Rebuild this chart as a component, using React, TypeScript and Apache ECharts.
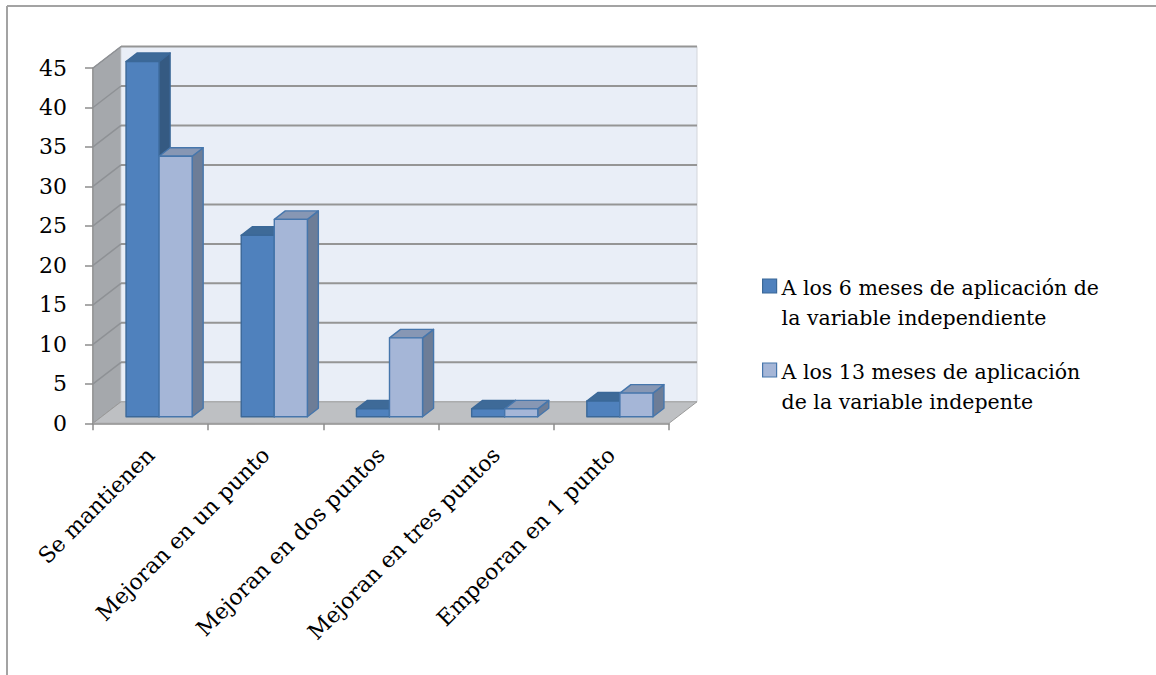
import React, { useEffect, useRef } from "react";
import * as echarts from "echarts";

// Category labels along the floor
const categories = [
  "Se mantienen",
  "Mejoran en un punto",
  "Mejoran en dos puntos",
  "Mejoran en tres puntos",
  "Empeoran en 1 punto",
];

// Series names (legend text, wrapped on two lines)
const seriesNames = [
  "A los 6 meses de aplicación de\nla variable independiente",
  "A los 13 meses de aplicación\nde la variable indepente",
];

// Counts per category
const sixMonths = [45, 23, 1, 1, 2];
const thirteenMonths = [33, 25, 10, 1, 3];

// Value axis
const Y_MIN = 0;
const Y_MAX = 45;
const Y_STEP = 5;

const FONT = "DejaVu Serif";

// Pseudo-3D projection offsets (pixels)
const WALL_DX = 28;
const WALL_DY = -21.5;
const BAR_OX = 8.5;
const BAR_OY = -6.5;
const BAR_DX = 11;
const BAR_DY = -8.5;
const BAR_FRAC = 0.287;

const faces = [
  { front: "#4F81BD", top: "#3E6A98", side: "#355A82", edge: "#3B6898" },
  { front: "#A5B6D7", top: "#8797B4", side: "#6D7D97", edge: "#4676AC" },
];

function wallsRenderer(params: any, api: any) {
  const cs = params.coordSys;
  const l = cs.x;
  const r = cs.x + cs.width;
  const y0 = api.coord([0, Y_MIN])[1];
  const yM = api.coord([0, Y_MAX])[1];
  const children: any[] = [];

  // left side wall
  children.push({
    type: "polygon",
    shape: {
      points: [
        [l, y0],
        [l, yM],
        [l + WALL_DX, yM + WALL_DY],
        [l + WALL_DX, y0 + WALL_DY],
      ],
    },
    style: { fill: "#A5A8AC", stroke: "#8C8C8C", lineWidth: 1 },
  });
  // back wall
  children.push({
    type: "rect",
    shape: { x: l + WALL_DX, y: yM + WALL_DY, width: cs.width, height: y0 - yM },
    style: { fill: "#E9EEF7", stroke: "#D3D6DB", lineWidth: 1 },
  });
  // floor
  children.push({
    type: "polygon",
    shape: {
      points: [
        [l, y0],
        [r, y0],
        [r + WALL_DX, y0 + WALL_DY],
        [l + WALL_DX, y0 + WALL_DY],
      ],
    },
    style: { fill: "#BEC0C3", stroke: "#9A9A9A", lineWidth: 1 },
  });
  // grid lines on the back and side walls
  for (let v = Y_MIN + Y_STEP; v <= Y_MAX; v += Y_STEP) {
    const yv = api.coord([0, v])[1];
    children.push({
      type: "line",
      shape: { x1: l + WALL_DX, y1: yv + WALL_DY, x2: r + WALL_DX, y2: yv + WALL_DY },
      style: { stroke: "#959595", lineWidth: 2 },
    });
    children.push({
      type: "line",
      shape: { x1: l, y1: yv, x2: l + WALL_DX, y2: yv + WALL_DY },
      style: { stroke: "#8E9195", lineWidth: 1.5 },
    });
  }
  return { type: "group", children };
}

function barRenderer(s: number) {
  return (params: any, api: any) => {
    const cat = api.value(0);
    const val = api.value(1);
    const top = api.coord([cat, val]);
    const base = api.coord([cat, Y_MIN]);
    const band = api.size([1, 0])[0];
    const w = band * BAR_FRAC;
    const x0 = top[0] + BAR_OX - (s === 0 ? w : 0);
    const yT = top[1] + BAR_OY;
    const yB = base[1] + BAR_OY;
    const f = faces[s];
    const st = (fill: string) => ({ fill, stroke: f.edge, lineWidth: 1.4, lineJoin: "round" });
    return {
      type: "group",
      children: [
        {
          type: "polygon",
          shape: {
            points: [
              [x0 + w, yB],
              [x0 + w, yT],
              [x0 + w + BAR_DX, yT + BAR_DY],
              [x0 + w + BAR_DX, yB + BAR_DY],
            ],
          },
          style: st(f.side),
        },
        {
          type: "polygon",
          shape: {
            points: [
              [x0, yT],
              [x0 + w, yT],
              [x0 + w + BAR_DX, yT + BAR_DY],
              [x0 + BAR_DX, yT + BAR_DY],
            ],
          },
          style: st(f.top),
        },
        {
          type: "rect",
          shape: { x: x0, y: yT, width: w, height: yB - yT },
          style: st(f.front),
        },
      ],
    };
  };
}

export default function App() {
  const ref = useRef<HTMLDivElement>(null);

  useEffect(() => {
    if (!ref.current) return;
    const chart = echarts.init(ref.current, undefined, { renderer: "svg" });

    const legendItems = seriesNames.map((name, i) => ({
      type: "group",
      left: 762,
      top: 273 + i * 84,
      children: [
        {
          type: "rect",
          shape: { x: 0, y: -1, width: 14, height: 14 },
          style: { fill: faces[i].front, stroke: faces[i].edge, lineWidth: 1.2 },
        },
        {
          type: "text",
          x: 19,
          y: -7,
          style: {
            text: name,
            font: `20.5px "${FONT}"`,
            fill: "#000",
            lineHeight: 30,
            verticalAlign: "top",
          },
        },
      ],
    }));

    chart.setOption({
      animation: false,
      backgroundColor: "#fff",
      textStyle: { fontFamily: FONT },
      grid: { left: 93, top: 68, width: 576, height: 355.3 },
      xAxis: {
        type: "category",
        data: categories,
        boundaryGap: true,
        axisLine: { show: true, lineStyle: { color: "#8C8C8C", width: 1.5 } },
        axisTick: { show: true, length: 7, lineStyle: { color: "#8C8C8C", width: 1.5 } },
        axisLabel: {
          rotate: 45,
          margin: 28,
          interval: 0,
          fontFamily: FONT,
          fontSize: 22,
          color: "#000",
        },
        splitLine: { show: false },
      },
      yAxis: {
        type: "value",
        min: Y_MIN,
        max: Y_MAX,
        interval: Y_STEP,
        axisLine: { show: true, lineStyle: { color: "#8C8C8C", width: 1.5 } },
        axisTick: { show: true, length: 8, lineStyle: { color: "#8C8C8C", width: 1.5 } },
        axisLabel: {
          margin: 26,
          fontFamily: FONT,
          fontSize: 22,
          color: "#000",
          padding: [6, 0, 0, 0],
        },
        splitLine: { show: false },
      },
      graphic: [
        {
          type: "line",
          shape: { x1: 7, y1: 6, x2: 1156, y2: 6 },
          style: { stroke: "#A3A3A3", lineWidth: 2 },
        },
        {
          type: "line",
          shape: { x1: 7, y1: 6, x2: 7, y2: 675 },
          style: { stroke: "#A3A3A3", lineWidth: 2 },
        },
        ...legendItems,
      ],
      series: [
        {
          type: "custom",
          name: "walls",
          silent: true,
          z: 1,
          data: [[0, 0]],
          encode: { x: 0, y: 1 },
          renderItem: wallsRenderer,
        },
        {
          type: "custom",
          name: seriesNames[0],
          z: 2,
          data: sixMonths.map((v, i) => [i, v]),
          encode: { x: 0, y: 1 },
          renderItem: barRenderer(0),
        },
        {
          type: "custom",
          name: seriesNames[1],
          z: 3,
          data: thirteenMonths.map((v, i) => [i, v]),
          encode: { x: 0, y: 1 },
          renderItem: barRenderer(1),
        },
      ],
    });

    return () => chart.dispose();
  }, []);

  return (
    <div
      ref={ref}
      style={{ position: "fixed", left: 0, top: 0, width: 1156, height: 675, background: "#fff" }}
    />
  );
}
